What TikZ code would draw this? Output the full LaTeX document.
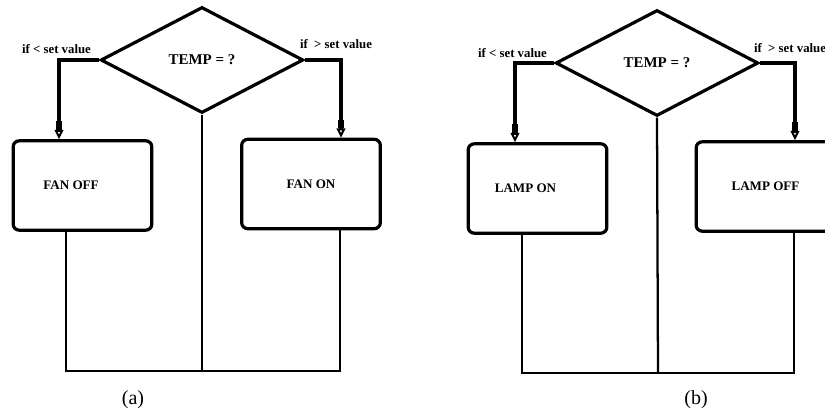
\documentclass[tikz,border=0pt]{standalone}
\usepackage{fontspec}
\setmainfont{Liberation Serif}
\usetikzlibrary{arrows.meta}
\usetikzlibrary{shapes.geometric}
\usetikzlibrary{positioning}
\usetikzlibrary{calc}
\tikzset{decision/.style = {draw, diamond, line width = 2.4pt, inner sep = 0, minimum width = 152pt, minimum height = 79.5pt, font = \fontsize{11.2}{13}\selectfont\bfseries}}
\tikzset{boxtext/.style = {font = \fontsize{9.8}{12}\selectfont\bfseries}}
\tikzset{statebox/.style = {draw, rectangle, rounded corners = 4.5pt, line width = 2.4pt, minimum width = 104pt, minimum height = 67pt, boxtext}}
\tikzset{cond/.style = {inner sep = 0, font = \fontsize{9.6}{11}\selectfont\bfseries}}
\tikzset{flow/.style = {line width = 2.4pt, -{Rectangle[length = 6.5pt, width = 4.8pt] Triangle[open, length = 7pt, width = 6.5pt, line width = 1.5pt]}}}
\tikzset{wire/.style = {line width = 1.7pt}}
\tikzset{caption/.style = {font = \fontsize{15}{18}\selectfont}}

\begin{document}
\begin{tikzpicture}[x = 0.75pt, y = -0.75pt]
  \useasboundingbox (0, 0) rectangle (825, 417);
  \clip (0, 0) rectangle (825, 417);

  % (a) fan
  \node [decision] (tempa) at (202, 60) {TEMP = ?};
  \node [statebox, label = {[boxtext, xshift = -8.6pt]center:FAN OFF}] (fanoff) at (82.5, 185.5) {};
  \node [statebox] (fanon) at (311, 184) {FAN ON};

  \coordinate (ina) at ($(fanoff.north) + (-23.5, 0)$);
  \coordinate (inb) at ($(fanon.north) + (30, 0)$);
  \coordinate (outa) at ($(fanoff.south) + (-16.5, 0)$);
  \coordinate (outb) at ($(fanon.south) + (29, 0)$);
  \coordinate (basea) at (202, 371);

  \draw [flow] (tempa.west) -| (ina);
  \draw [flow] (tempa.east) -| (inb);
  \draw [wire] (outa) |- (basea) -| (outb);
  \draw [wire] (tempa.south) -- (basea);

  \node [cond] (lowa) at ($(ina |- tempa.west) + (-2.5, -11)$) {if < set value};
  \node [cond] (higha) at ($(inb |- tempa.east) + (-5, -16)$) {if~ > set value};
  \node [caption] (capa) at (133, 400) {(a)};

  % (b) lamp
  \node [decision] (tempb) at (657, 63) {TEMP = ?};
  \node [statebox, label = {[boxtext, xshift = -9pt]center:LAMP ON}] (lampon) at (537.5, 188.5) {};
  \node [statebox] (lampoff) at (765.5, 186.5) {LAMP OFF};

  \coordinate (inc) at ($(lampon.north) + (-22.5, 0)$);
  \coordinate (ind) at ($(lampoff.north) + (29.5, 0)$);
  \coordinate (outc) at ($(lampon.south) + (-15.5, 0)$);
  \coordinate (outd) at ($(lampoff.south) + (28.5, 0)$);
  \coordinate (baseb) at (658, 373);

  \draw [flow] (tempb.west) -| (inc);
  \draw [flow] (tempb.east) -| (ind);
  \draw [wire] (outc) |- (baseb) -| (outd);
  \draw [wire] (tempb.south) -- (baseb);

  \node [cond] (lowb) at ($(inc |- tempb.west) + (-2.5, -10)$) {if < set value};
  \node [cond] (highb) at ($(ind |- tempb.east) + (-5, -15)$) {if~ > set value};
  \node [caption] (capb) at (696, 400) {(b)};
\end{tikzpicture}
\end{document}
